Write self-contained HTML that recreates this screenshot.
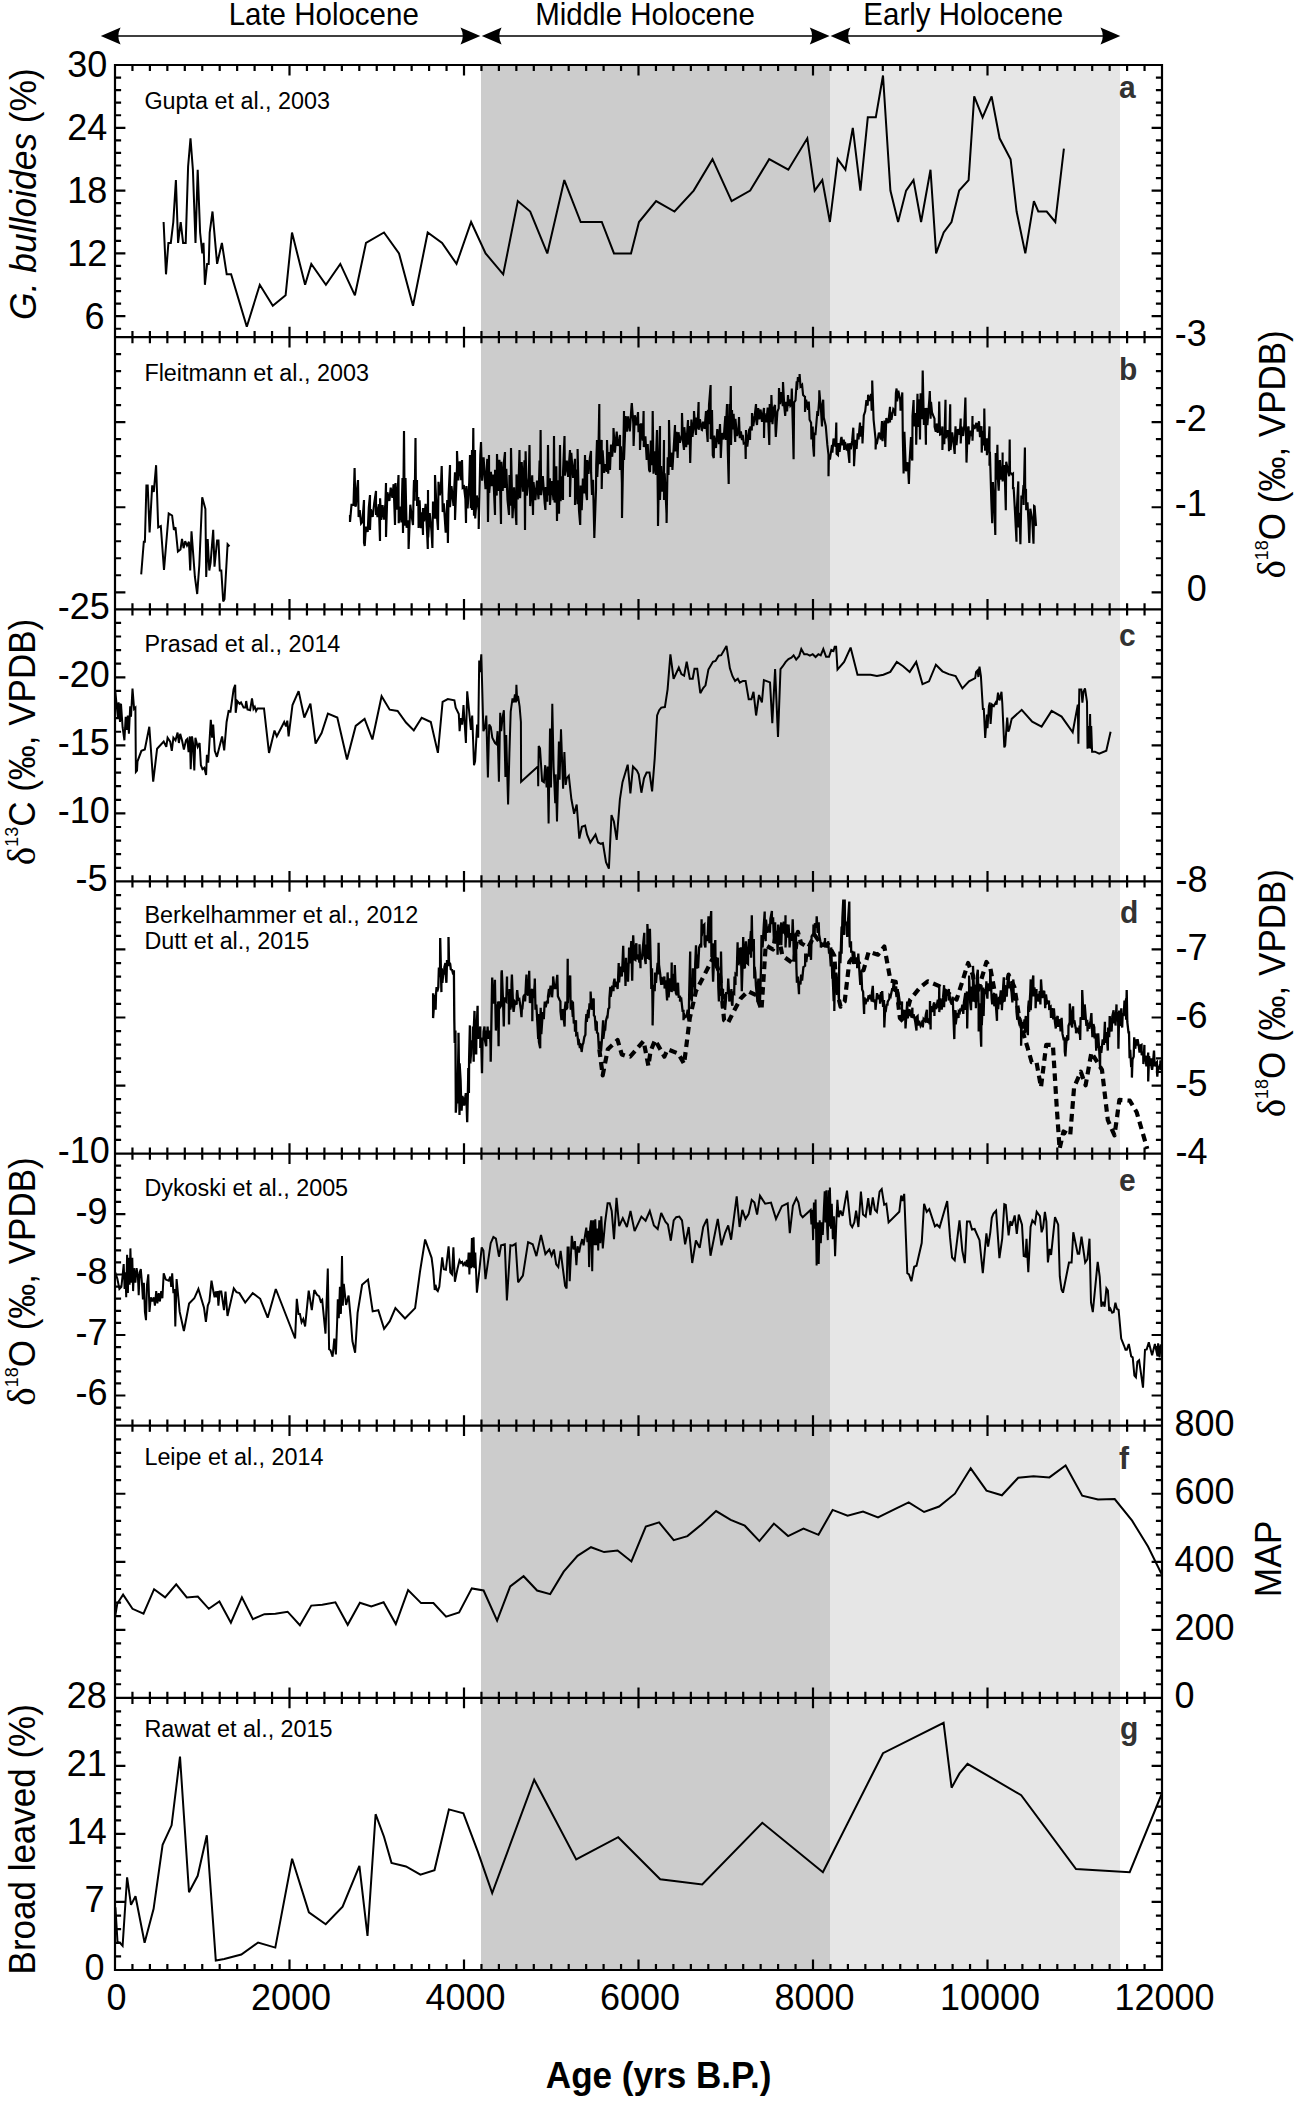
<!DOCTYPE html>
<html><head><meta charset="utf-8"><title>Holocene monsoon records</title>
<style>html,body{margin:0;padding:0;background:#fff}svg{display:block}text{font-family:"Liberation Sans",sans-serif;fill:#000}.tk{font-size:36px}.src{font-size:23.35px}.pl{font-size:30px;font-weight:bold;fill:#333}.ax{font-size:35.4px}.hl{font-size:29.5px}.c{fill:none;stroke:#000;stroke-width:2;stroke-linejoin:miter;stroke-miterlimit:3;stroke-linecap:butt}.cn{fill:none;stroke:#000;stroke-width:2;stroke-linejoin:miter;stroke-miterlimit:3}.f{stroke:#000;stroke-width:2.2;fill:none;stroke-linecap:butt}</style></head><body>
<svg width="1298" height="2101" viewBox="0 0 1298 2101">
<rect x="0" y="0" width="1298" height="2101" fill="#fff"/>
<rect x="481" y="65.0" width="349" height="1905.0" fill="#cccccc"/>
<rect x="830" y="65.0" width="290" height="1905.0" fill="#e6e6e6"/>
<polyline class="c" points="163.6,222.0 166.0,274.3 168.4,242.9 170.8,242.9 173.3,222.0 175.9,180.1 178.1,242.9 180.7,222.0 183.1,242.9 185.7,242.9 188.1,166.5 190.5,138.3 192.9,169.7 195.5,242.9 197.7,169.7 200.1,232.5 202.3,253.4 203.5,242.9 204.9,284.8 207.1,263.9 208.7,263.9 209.7,232.5 212.5,211.5 217.1,263.9 221.9,242.9 226.7,274.3 231.1,274.3 246.8,326.7 259.8,284.8 272.8,305.7 285.6,295.3 292.0,232.5 305.1,284.8 311.3,263.9 325.9,284.8 340.3,263.9 354.9,295.3 366.0,242.9 384.0,232.5 399.0,253.4 413.0,305.7 427.7,232.5 442.1,242.9 456.5,263.9 471.1,222.0 485.6,253.4 503.2,274.3 517.8,201.1 530.2,211.5 547.3,253.4 564.3,180.1 580.7,222.0 601.8,222.0 614.0,253.4 631.0,253.4 639.0,222.0 656.1,201.1 674.5,211.5 693.7,190.6 712.5,159.2 731.6,201.1 750.2,190.6 769.2,159.2 788.3,169.7 807.3,138.3 814.7,190.6 822.3,180.1 829.9,222.0 837.7,159.2 845.4,169.7 852.8,127.8 860.4,190.6 867.8,117.3 875.8,117.3 883.0,75.5 890.4,190.6 898.1,222.0 906.1,190.6 913.5,180.1 921.1,222.0 930.5,169.7 936.1,253.4 943.7,232.5 951.5,222.0 959.2,190.6 968.6,180.1 974.2,96.4 982.6,117.3 991.6,96.4 999.6,138.3 1010.6,159.2 1016.6,211.5 1025.3,253.4 1033.9,201.1 1038.3,211.5 1046.7,211.5 1055.3,222.0 1063.9,148.7"/>
<polyline class="c" points="141.2,574.4 143.8,541.7 144.9,541.7 146.4,485.4 147.7,485.4 149.6,532.5 152.2,485.4 153.8,491.9 156.1,465.2 158.2,527.3 160.8,526.0 164.0,570.0 168.7,513.4 172.1,515.5 173.9,529.9 175.5,527.3 177.9,551.6 180.5,549.5 182.0,539.0 183.6,548.2 185.2,541.2 187.0,545.6 188.9,541.7 190.2,570.5 191.5,531.2 194.9,577.0 197.2,594.0 199.3,565.2 202.2,497.2 205.4,508.9 206.2,577.0 207.7,539.0 209.3,570.5 210.6,562.6 213.2,529.9 214.5,566.6 217.1,540.4 218.5,540.4 219.8,570.5 221.3,570.5 223.2,601.4 224.5,599.3 227.6,544.3 229.5,546.4"/>
<polyline class="cn" style="stroke-width:2.15" points="350.0,515.0 350.0,519.3 350.0,522.0 351.5,504.9 353.5,504.9 354.6,468.0 355.4,506.7 356.0,505.0 356.6,493.5 358.0,480.0 358.6,517.0 359.7,510.1 361.1,523.5 362.4,521.9 364.0,500.0 364.0,542.7 364.7,546.0 365.9,526.6 367.7,532.0 368.8,507.3 370.0,495.0 370.0,530.0 370.8,509.3 372.7,516.9 374.2,503.3 376.0,491.0 376.0,515.0 376.0,505.7 377.5,517.1 378.8,504.2 380.0,541.0 380.1,498.3 381.1,520.0 382.6,505.1 383.9,519.7 385.4,503.3 386.0,483.0 386.0,537.0 387.4,492.2 389.4,500.9 390.7,487.6 392.4,497.9 393.6,484.2 395.0,525.0 395.5,483.1 396.7,509.8 398.5,475.0 398.7,523.2 400.4,506.5 401.4,522.4 402.5,478.0 402.8,513.3 403.0,533.0 404.0,431.0 404.8,525.7 405.5,478.0 406.6,527.8 408.4,520.3 408.6,549.0 410.3,504.7 411.6,515.5 413.0,525.0 413.6,493.1 414.0,480.0 414.7,500.8 415.5,438.0 415.9,491.8 417.0,480.0 417.1,506.0 418.3,497.1 418.6,528.0 419.6,500.3 420.9,528.1 422.1,512.2 423.0,535.0 423.1,508.1 424.1,521.5 425.6,503.9 427.1,532.9 427.8,549.0 428.0,490.0 428.2,537.4 429.7,513.0 431.5,531.4 432.4,548.0 433.0,501.5 435.0,518.5 435.0,475.0 436.8,514.2 438.0,530.0 438.5,481.8 439.8,495.4 440.9,487.3 441.7,466.0 442.7,512.1 443.8,503.3 445.7,532.8 447.3,500.1 447.9,543.0 448.6,494.8 450.0,465.0 450.0,507.1 451.5,486.2 453.5,505.8 455.0,472.3 455.0,520.0 457.0,467.0 457.0,451.0 458.3,480.5 459.7,461.3 461.2,480.1 462.0,460.0 462.7,487.8 464.0,486.7 465.4,499.2 466.0,523.0 466.4,486.1 467.6,508.5 469.2,482.7 470.0,455.0 470.8,508.2 472.0,450.0 472.0,510.0 472.7,480.3 473.3,428.0 474.0,515.7 475.0,450.0 475.2,518.5 476.8,495.5 478.7,510.7 478.7,529.0 480.3,455.0 481.0,442.0 482.1,480.6 483.6,457.2 485.5,489.2 487.3,458.9 488.0,522.0 489.0,455.0 489.2,493.0 490.9,471.9 491.9,486.1 493.3,474.6 495.0,515.0 495.1,469.8 496.7,495.6 497.0,454.0 498.4,491.0 499.4,459.8 501.0,524.0 501.2,461.8 502.7,491.0 503.8,462.8 505.0,452.0 505.0,487.9 506.3,468.8 507.5,499.8 509.0,515.0 509.5,474.9 510.8,505.7 511.0,448.0 512.5,518.2 514.1,487.3 515.2,506.8 516.4,525.0 516.5,474.4 517.8,499.5 518.8,475.4 519.5,450.0 520.1,498.3 521.7,462.1 523.0,491.7 524.5,460.3 525.0,530.0 525.6,451.2 526.8,495.7 528.8,477.7 529.5,445.0 530.2,506.1 532.2,475.2 533.0,515.0 533.5,482.1 535.4,500.1 537.0,480.5 538.5,499.3 539.6,460.6 540.0,495.0 540.6,430.0 541.1,495.2 542.8,476.2 544.7,503.3 545.4,510.0 545.8,487.1 547.3,501.7 548.0,445.0 548.6,495.5 549.9,478.3 550.0,505.0 551.7,481.0 553.5,500.1 554.0,436.0 554.6,502.6 556.3,466.3 557.0,521.0 557.6,480.3 559.0,513.7 560.0,445.0 560.6,501.3 562.0,476.4 563.0,500.0 563.1,470.8 564.5,436.0 564.9,475.5 566.8,460.7 568.1,476.9 569.3,459.3 570.0,450.0 570.0,497.0 571.3,452.8 573.1,477.9 575.0,458.8 575.0,505.0 576.5,469.5 577.6,504.3 577.6,449.0 579.0,510.7 580.2,525.0 580.7,485.5 581.7,510.3 582.9,478.6 584.2,493.5 585.0,455.0 585.9,491.0 587.0,500.0 587.2,460.0 588.5,473.8 589.9,457.6 591.0,451.0 591.1,472.4 592.0,495.0 593.0,479.7 594.2,531.3 594.3,538.0 596.0,490.0 596.2,465.3 597.0,440.0 597.3,477.0 598.4,452.6 599.3,404.0 599.5,464.1 600.8,444.7 601.7,440.0 601.7,489.0 602.6,450.4 604.1,472.7 605.6,464.3 606.9,471.9 607.0,440.0 608.2,473.8 609.3,452.0 610.0,470.0 611.0,444.5 612.2,456.8 613.4,439.4 613.5,428.0 614.9,452.6 616.7,431.5 617.7,445.9 619.4,438.7 620.0,435.0 620.0,470.0 620.9,446.4 621.9,483.4 622.0,518.0 623.8,423.4 624.0,411.0 624.0,460.0 625.7,416.0 626.9,431.7 628.1,416.4 629.8,431.5 631.5,406.0 631.8,403.0 633.3,423.6 633.6,446.0 634.8,415.3 636.6,425.4 638.0,412.0 638.5,432.2 639.8,423.8 640.0,450.0 641.1,423.4 642.8,440.7 643.6,411.0 643.8,447.1 645.4,436.3 646.7,460.0 647.7,444.0 649.1,470.1 650.0,472.0 650.8,440.5 652.2,465.2 652.7,411.0 653.5,473.7 655.2,451.2 656.0,475.0 656.2,453.0 657.0,430.0 657.9,504.7 658.0,526.0 659.2,459.6 660.0,426.0 660.0,500.0 661.1,466.0 662.1,491.7 663.5,473.3 664.0,440.0 664.0,500.0 664.7,473.4 666.5,513.7 666.6,523.0 667.7,457.2 668.5,475.0 669.0,447.2 669.0,420.0 670.2,466.9 672.0,452.7 672.4,470.0 673.9,444.3 675.0,425.0 675.1,451.3 676.5,431.9 677.6,458.0 678.5,432.2 679.9,442.8 681.8,434.5 682.0,413.0 682.9,440.6 684.0,450.0 684.3,427.2 686.2,447.2 688.0,420.0 688.2,444.6 689.5,426.0 690.2,463.0 691.4,419.6 692.5,436.9 693.9,421.7 694.0,411.0 695.2,427.3 696.0,435.0 696.2,417.6 697.5,428.7 698.6,402.0 698.7,429.8 699.9,419.1 701.7,429.8 702.0,430.0 703.1,421.6 704.6,428.7 706.0,411.0 706.5,427.1 707.7,442.0 707.9,409.8 708.9,424.2 709.0,405.0 710.6,385.0 710.7,438.9 711.8,437.1 712.0,410.0 712.8,455.4 713.8,458.0 714.1,435.6 716.0,448.0 717.3,429.1 718.9,444.1 720.0,424.0 720.6,444.5 720.8,458.0 721.9,433.1 723.6,439.5 725.3,416.0 726.0,440.0 726.3,419.9 727.0,404.0 727.8,450.9 728.7,484.0 729.5,404.0 729.7,435.6 730.8,386.0 731.0,416.6 731.0,445.0 732.0,410.0 732.5,429.3 733.6,413.7 735.2,442.0 735.4,418.8 737.1,436.0 738.5,428.7 739.0,417.0 739.8,438.2 740.9,431.5 742.0,440.0 742.7,434.9 743.7,443.4 745.3,442.3 745.7,459.0 746.0,430.0 747.3,446.6 749.3,428.7 750.0,440.0 750.3,426.4 751.8,430.5 752.0,413.0 753.3,426.0 754.7,415.9 756.0,404.0 756.4,421.3 757.0,425.0 758.2,408.2 759.3,419.3 760.6,409.5 762.0,421.8 763.2,412.8 764.0,408.0 764.0,438.0 764.5,413.3 766.3,422.3 767.7,407.5 769.3,445.0 769.7,404.0 770.9,422.3 771.4,395.0 772.5,424.1 773.6,408.4 775.0,405.0 775.5,429.2 775.8,437.0 777.4,411.6 778.7,408.4 779.0,388.0 779.9,403.8 780.0,404.2 781.4,392.0 782.8,406.1 783.0,382.0 784.3,406.8 785.2,416.0 786.0,401.9 787.1,411.4 788.0,395.0 788.8,406.0 790.1,399.4 790.5,405.5 791.3,404.4 791.8,388.5 792.9,429.3 793.6,459.2 794.1,402.4 795.5,400.4 796.7,381.2 797.0,389.8 797.9,377.2 799.4,381.7 799.6,374.0 800.5,386.5 802.1,384.8 803.1,395.0 804.8,396.7 805.0,396.0 805.0,412.0 806.1,399.6 808.1,409.8 808.8,401.5 809.6,419.7 811.1,422.7 811.4,439.5 812.7,426.4 813.1,445.5 814.0,456.6 814.3,433.7 815.5,434.0 817.4,411.1 818.0,416.0 819.2,399.7 819.3,390.3 821.1,412.0 822.0,426.4 822.2,406.9 823.2,399.7 823.8,417.5 825.7,425.8 825.8,426.4 827.3,444.4 828.5,455.0 828.5,476.2 828.8,458.6 830.1,458.7 832.0,445.0 832.4,452.6 833.5,438.5 835.5,446.8 836.3,422.5 836.6,453.9 838.0,455.2 838.6,443.0 839.6,451.8 841.0,439.0 841.5,437.0 842.6,445.3 843.8,439.6 844.2,450.0 845.0,441.9 846.9,450.5 848.0,443.5 848.1,450.8 849.4,463.0 849.5,443.3 850.8,449.4 852.1,440.9 853.3,427.7 854.0,456.5 854.0,466.2 855.5,439.9 856.6,449.0 857.7,433.2 858.6,439.5 859.3,429.9 860.0,422.5 860.6,436.5 862.1,425.9 862.5,443.5 863.8,415.4 865.2,411.3 866.4,400.0 866.9,403.8 867.7,405.5 868.1,394.8 869.9,401.0 871.1,393.9 871.7,410.7 872.2,396.4 872.2,380.6 873.6,419.8 875.0,433.6 875.6,439.5 875.6,449.5 876.1,440.3 877.2,442.1 878.9,432.6 880.0,436.7 880.8,439.5 881.4,430.1 882.0,421.0 882.5,441.2 884.5,420.5 885.3,446.9 886.3,418.1 888.3,423.1 890.0,406.8 890.0,422.5 890.3,412.0 891.4,419.7 893.3,409.0 894.7,410.6 895.2,416.0 895.9,393.0 896.6,388.5 897.1,401.5 898.3,390.7 900.2,399.9 900.5,410.7 901.5,402.3 902.3,392.4 902.8,436.8 903.6,473.6 904.0,447.8 904.4,431.7 905.9,471.3 907.8,462.3 908.9,484.0 909.6,460.7 911.0,437.0 911.1,453.4 912.3,460.5 912.5,416.1 913.6,400.0 914.0,426.3 915.9,412.9 916.2,444.8 917.5,393.7 917.9,426.9 919.3,399.3 920.0,439.5 920.6,393.3 922.1,419.2 922.7,370.6 923.9,424.9 925.1,408.1 925.9,444.8 926.1,412.9 926.7,408.0 927.4,425.2 929.4,398.0 929.8,391.0 930.6,418.6 931.0,401.9 932.0,412.4 933.2,415.5 934.5,418.6 934.6,426.9 935.8,431.7 936.5,423.5 937.7,432.8 938.8,424.3 939.2,401.5 940.1,434.6 941.5,433.9 942.4,426.4 942.4,450.0 943.0,433.7 944.3,444.2 945.5,399.7 945.7,438.3 947.7,430.1 948.8,441.8 949.0,451.3 950.2,404.2 950.5,449.9 952.2,432.3 953.5,442.3 954.7,454.0 955.1,436.0 955.5,426.4 956.5,445.2 957.9,429.0 959.7,434.8 960.7,418.6 960.7,443.5 961.6,426.7 963.1,436.0 964.3,425.1 965.4,397.6 966.1,439.4 966.5,462.6 967.7,428.9 968.6,426.4 968.8,444.3 970.4,430.7 972.1,436.1 972.5,416.0 972.5,440.8 973.2,424.9 974.5,429.0 976.4,422.9 977.7,431.7 978.1,426.1 979.0,421.2 980.0,437.1 981.5,426.2 981.7,452.6 982.9,430.9 984.0,445.4 984.3,408.6 985.1,450.7 986.8,438.2 986.9,455.2 988.6,443.3 989.5,426.4 989.5,465.7 989.9,451.7 991.3,500.0 992.2,523.3 992.9,482.1 994.5,511.4 995.3,535.0 995.7,453.1 996.7,479.6 997.4,444.8 998.0,480.2 998.7,490.6 999.9,460.1 1001.3,479.6 1002.6,466.2 1002.6,452.6 1002.6,481.4 1004.5,465.1 1005.8,510.2 1006.2,461.7 1008.2,471.7 1009.2,476.2 1009.7,439.5 1010.0,472.3 1011.9,474.4 1013.0,473.6 1013.0,489.3 1013.6,487.0 1014.9,510.3 1016.5,541.7 1016.5,515.2 1018.3,481.4 1018.4,527.5 1019.5,512.9 1020.4,544.3 1021.4,495.5 1022.5,498.6 1023.5,485.0 1023.6,496.1 1023.6,505.0 1024.9,447.4 1025.2,490.2 1026.0,490.0 1026.2,510.2 1026.9,505.3 1027.5,502.4 1028.5,522.1 1029.3,543.0 1030.3,508.8 1032.2,519.3 1033.5,543.8 1034.1,506.0 1034.6,506.3 1036.0,525.4 1036.2,526.0 1036.2,526.0"/>
<polyline class="c" points="115.2,690.6 116.5,703.7 117.9,716.8 118.6,702.4 120.0,722.0 121.0,703.7 122.6,727.2 124.4,740.3 125.7,716.8 127.0,729.9 127.8,715.5 128.9,733.8 130.2,706.3 131.0,716.8 132.5,688.5 134.1,708.9 135.4,707.6 135.9,771.8 137.0,770.5 137.5,761.3 141.4,750.8 144.8,749.5 149.3,726.7 153.2,781.7 157.1,748.7 163.7,741.6 166.3,746.9 167.6,737.7 170.2,741.6 171.8,750.8 173.4,737.7 175.5,740.3 177.6,732.5 178.9,743.0 180.2,733.8 182.0,740.3 183.9,749.5 186.0,740.3 187.3,739.0 188.6,752.1 189.9,736.4 190.7,769.2 192.0,736.4 193.0,743.0 194.3,770.5 195.4,737.7 197.7,746.9 199.6,743.0 200.9,765.2 202.5,769.2 204.3,767.8 206.1,774.9 206.9,754.7 208.2,762.6 210.8,719.9 212.1,737.7 213.2,724.6 214.8,750.8 216.9,756.8 222.1,736.4 224.2,750.3 226.6,722.0 228.6,711.0 230.5,711.5 233.6,689.3 235.2,684.8 235.7,712.8 237.3,701.0 239.6,703.7 241.0,702.4 243.6,707.6 245.4,707.6 246.2,701.0 247.5,709.4 250.1,710.2 252.0,698.4 253.5,708.9 254.8,706.8 256.1,711.0 257.5,708.4 264.0,708.4 269.0,752.9 274.5,730.6 276.8,736.4 284.2,722.0 286.0,726.5 287.3,720.7 288.6,736.4 292.5,705.0 298.6,691.1 304.3,717.5 310.4,703.7 315.6,743.5 321.6,733.0 327.9,713.6 337.3,717.5 347.0,759.5 355.7,725.9 364.6,718.9 372.4,739.5 381.6,696.3 389.7,709.7 397.6,711.0 406.0,722.5 413.8,730.4 421.7,717.8 430.8,722.0 437.9,752.9 442.6,701.8 447.8,699.0 454.4,700.3 455.7,707.6 458.8,714.1 459.6,731.2 460.9,718.1 462.2,724.6 463.5,705.0 465.9,743.0 467.2,691.4 469.8,718.1 470.9,729.9 472.2,715.5 474.0,765.2 475.1,761.3 477.1,724.6 478.2,737.7 479.2,660.5 480.0,672.2 481.3,654.4 483.4,731.2 485.0,727.2 486.3,715.5 487.9,777.5 489.2,724.6 490.8,727.2 492.3,737.7 495.0,743.0 496.5,744.3 497.6,731.2 498.9,781.7 500.2,712.8 501.2,731.2 502.6,716.8 503.9,710.2 505.4,777.0 506.2,735.1 508.1,804.5 509.4,753.4 510.7,711.5 512.5,698.4 513.8,702.4 514.9,694.5 515.9,702.4 516.4,684.8 517.2,701.0 518.0,695.8 519.6,706.3 520.9,722.0 521.1,781.7 537.9,766.5 538.2,786.2 538.7,746.1 540.0,748.2 542.1,780.9 543.9,782.2 545.2,765.2 546.6,787.5 547.6,766.5 548.6,823.6 550.0,728.6 551.0,787.5 552.3,703.7 553.6,766.5 555.2,803.2 555.7,774.4 557.0,821.5 558.9,741.6 559.6,779.6 561.0,729.3 562.3,766.5 563.1,788.8 564.4,752.1 565.7,784.9 566.7,778.3 568.8,775.7 571.4,799.3 574.1,813.7 576.7,804.5 579.3,838.6 581.9,826.8 585.1,825.5 587.1,834.6 590.3,842.5 595.5,834.6 598.1,842.5 600.8,843.8 602.9,843.0 606.0,862.1 608.9,868.7 611.5,815.0 613.9,821.5 616.7,839.9 619.9,799.3 622.5,782.2 627.7,764.7 630.4,793.5 633.0,766.5 636.9,770.5 638.7,774.4 641.4,792.7 644.0,778.3 646.6,772.6 649.5,772.6 652.1,791.4 654.7,758.7 657.1,715.5 659.2,710.2 661.3,707.6 664.9,707.1 667.6,689.3 670.4,654.4 673.6,678.8 678.8,667.5 681.4,674.1 684.1,675.6 686.7,661.8 689.8,678.8 692.7,678.8 694.5,668.8 697.2,668.8 700.3,693.2 703.2,688.0 705.5,685.3 708.4,669.6 712.9,661.8 715.5,661.0 718.6,655.7 721.2,655.2 726.5,646.0 729.9,668.3 732.5,676.2 735.1,680.9 737.8,678.8 739.8,682.7 743.0,680.9 745.6,680.9 748.7,699.2 751.4,699.2 753.5,691.9 756.1,715.5 759.0,695.0 761.9,702.4 763.9,680.1 770.0,682.4 772.3,723.2 775.1,669.0 778.0,736.9 780.5,669.0 782.8,666.2 785.7,661.9 788.5,659.0 791.4,657.6 793.6,655.3 796.2,659.6 799.1,656.2 801.3,649.1 804.2,654.2 807.0,654.2 809.9,655.6 812.7,654.2 815.6,657.0 818.4,654.2 820.7,655.3 823.3,649.1 826.1,656.8 829.0,656.8 831.3,649.9 833.5,651.1 834.7,646.8 836.1,646.8 837.5,669.6 844.1,661.9 850.6,647.6 857.5,674.7 870.6,674.7 876.9,676.1 883.4,674.7 890.3,671.9 896.8,661.9 903.1,666.2 909.7,671.9 916.2,661.9 922.5,684.1 929.0,681.3 935.9,664.7 942.4,671.3 948.7,674.1 955.6,676.1 962.4,688.4 969.0,681.3 975.2,678.1 976.1,671.9 977.5,670.4 978.4,677.0 979.5,666.7 980.9,676.1 982.9,708.9 983.8,708.9 985.2,738.0 986.9,714.6 987.5,728.3 988.9,706.1 989.8,702.6 990.6,724.0 992.0,704.6 993.8,706.1 995.7,702.6 996.6,704.6 998.0,692.7 999.5,700.4 1001.5,691.8 1002.3,703.2 1004.3,747.4 1005.2,745.4 1007.2,717.5 1008.3,731.7 1009.4,728.9 1011.7,718.9 1021.7,709.8 1032.2,721.7 1041.6,726.6 1051.6,710.9 1061.6,716.6 1072.7,732.3 1077.8,704.6 1078.4,743.7 1079.3,689.5 1081.3,689.5 1082.4,702.6 1083.5,691.8 1085.0,688.4 1087.0,701.8 1087.5,748.8 1088.4,726.0 1089.2,748.3 1090.1,714.1 1090.7,748.8 1091.2,726.0 1092.1,751.7 1094.9,751.7 1099.2,753.7 1106.3,750.8 1110.6,731.7"/>
<polyline class="cn" style="stroke-width:2.3" points="433.1,993.2 433.1,1007.8 433.1,1018.1 434.7,994.8 435.6,1009.8 436.0,994.3 436.6,987.0 437.3,991.6 438.3,987.0 438.9,967.5 440.0,977.2 440.2,938.0 441.4,992.1 441.4,972.4 441.8,968.2 442.4,983.0 443.4,971.3 443.9,974.5 444.4,967.1 445.4,963.0 445.6,972.6 446.4,982.8 447.0,961.1 448.5,960.9 448.5,937.0 449.1,966.1 449.8,963.0 450.2,964.0 450.8,969.2 452.1,969.9 453.3,974.5 453.3,972.5 453.9,970.3 454.3,1019.5 454.7,1043.1 455.4,1030.6 455.8,1099.4 455.8,1112.8 457.0,1093.0 457.1,1101.7 457.4,1103.4 458.5,1043.1 458.5,1032.7 459.5,1114.9 459.6,1063.3 460.6,1080.5 461.1,1099.5 461.6,1110.7 462.3,1095.9 462.6,1097.2 463.9,1100.3 464.1,1105.5 465.6,1095.5 465.8,1093.0 466.6,1103.9 467.2,1122.2 468.1,1082.3 468.3,1068.0 468.9,1093.0 469.1,1059.5 469.9,1025.4 470.3,1063.4 471.0,1053.5 471.3,1040.2 472.7,1046.7 473.0,1026.5 473.7,1061.8 473.8,1028.8 474.5,1010.9 475.4,1054.4 475.8,1026.5 476.2,1054.5 476.4,1034.8 477.6,1005.7 477.9,1038.7 478.9,1034.8 479.4,1032.6 480.3,1026.5 480.3,1047.9 481.3,1042.9 482.0,1073.3 482.6,1037.4 483.4,1038.9 483.6,1031.8 484.5,1026.5 484.7,1039.1 486.2,1046.2 486.4,1030.4 487.3,1035.7 487.6,1026.5 488.2,1038.9 489.0,1034.3 489.7,1030.6 490.5,1043.8 490.7,1061.8 491.8,999.8 492.2,977.6 492.8,1001.5 493.0,985.3 493.9,1003.8 494.9,979.7 495.5,1011.3 495.9,1030.6 496.8,1004.2 498.0,1027.1 498.0,1001.5 498.6,1046.2 499.0,1001.3 499.9,1007.6 501.1,1005.7 501.5,973.0 501.8,970.3 503.1,1002.5 503.8,1026.5 504.3,999.2 504.3,997.3 505.6,1000.8 506.3,1001.5 507.0,976.5 507.1,992.5 508.8,993.6 509.0,1024.4 509.5,989.0 510.3,1009.5 511.5,1003.6 511.5,985.0 511.9,974.5 513.1,1006.4 513.6,1011.9 514.6,1003.6 514.7,1001.5 515.9,1003.1 516.7,1004.6 516.8,994.4 517.2,990.0 518.1,999.7 519.3,999.1 520.7,1008.5 521.5,1017.1 521.9,1007.7 522.3,1009.3 523.5,996.5 524.9,994.5 525.1,1001.5 526.1,980.4 526.5,974.5 527.5,994.2 528.2,995.3 529.0,984.1 529.2,970.7 529.9,1003.1 531.4,990.5 532.3,989.0 532.3,1021.3 532.6,994.0 533.7,998.0 534.7,983.4 534.8,978.6 535.5,1009.8 536.3,1004.5 536.5,1007.7 537.6,1026.6 538.2,1038.9 538.6,1014.0 538.9,1041.9 540.2,1048.3 540.3,1025.3 540.7,1007.7 541.3,1034.1 542.8,1012.2 543.8,1019.2 544.5,1005.6 544.8,1001.5 545.7,1007.2 547.0,1000.6 547.9,1003.6 548.0,996.4 549.0,989.0 549.2,997.3 550.6,985.7 551.7,989.7 552.1,997.3 553.1,982.3 553.1,976.5 554.5,989.0 555.5,984.0 556.3,989.0 556.4,983.6 557.3,974.9 557.9,996.3 559.5,999.7 560.4,1001.5 560.5,1011.2 561.5,1020.2 562.1,1010.1 563.5,1009.8 563.7,1018.9 564.6,1026.5 565.0,1007.2 565.6,1001.5 566.1,1009.7 567.3,1007.7 567.7,958.8 567.8,1003.2 569.0,982.1 570.2,975.5 570.6,1006.5 570.8,1009.8 571.6,1000.3 572.8,1016.9 572.9,1001.5 573.8,1023.4 574.8,1021.9 575.0,1031.7 576.0,1020.2 576.2,1034.7 577.3,1033.8 578.5,1045.2 578.6,1038.9 579.9,1048.1 580.2,1043.1 581.6,1050.9 581.6,1052.0 582.6,1044.7 583.3,1043.1 584.3,1037.2 585.4,1034.8 585.7,1022.7 586.4,1014.0 586.8,1022.0 588.1,1009.7 588.5,1018.1 589.5,1003.4 590.6,1007.2 590.6,991.5 591.6,1009.8 592.3,1001.2 593.7,998.4 593.9,1015.4 594.8,1016.5 595.8,1030.6 596.1,1021.6 596.8,1022.3 597.0,1032.7 598.0,1033.4 598.9,1049.3 599.4,1041.6 599.9,1043.1 600.8,1047.0 601.0,1051.4 602.1,1037.4 603.1,1020.2 603.3,1038.9 604.9,1026.3 605.1,1030.6 605.9,1021.0 607.2,1016.1 607.3,1018.5 608.3,1008.9 609.3,1007.7 609.4,998.6 610.3,986.9 610.6,996.8 612.3,985.8 613.5,991.1 613.7,983.1 614.5,978.6 615.3,987.1 616.5,981.6 617.6,989.0 618.1,978.9 618.7,963.0 619.1,982.5 620.4,966.7 621.5,974.8 621.8,976.5 622.5,963.4 623.2,945.7 623.9,972.0 625.0,963.8 625.5,985.9 626.0,957.8 626.5,976.1 627.5,962.7 628.0,981.7 629.0,953.1 629.1,947.4 630.0,963.4 631.3,941.1 632.2,980.7 633.0,941.1 633.2,935.3 634.2,959.2 635.3,959.9 635.4,947.2 636.4,943.2 636.6,959.3 638.2,954.3 639.4,962.6 639.5,944.3 640.5,968.2 640.6,956.0 641.6,955.7 641.8,959.6 643.2,943.8 644.3,932.8 644.5,955.8 645.7,964.0 645.8,944.5 647.3,959.0 647.4,924.1 648.5,947.5 649.5,959.9 649.8,934.9 649.9,928.7 651.1,976.2 651.3,989.0 652.0,968.2 652.6,1011.0 652.6,1025.4 653.5,984.7 654.7,991.1 655.0,981.8 655.1,972.4 656.0,983.0 657.6,962.8 658.2,974.5 658.6,942.8 659.0,964.6 660.3,974.5 660.5,978.8 661.3,984.9 661.6,977.1 663.1,984.5 664.4,976.5 664.6,988.6 665.8,980.2 667.1,1000.5 667.3,986.6 667.6,972.4 668.6,997.4 670.1,978.3 671.3,991.4 671.7,962.4 671.7,992.1 672.7,973.9 674.3,991.1 674.8,965.1 675.9,993.2 676.9,995.3 677.3,986.1 678.0,982.8 678.7,997.6 680.0,995.8 680.0,1001.5 681.0,999.5 681.1,997.3 682.7,1012.0 683.5,1009.8 683.5,1020.2 683.7,1013.3 685.0,1017.2 686.6,1015.8 687.7,1009.8 687.8,1017.5 688.7,1020.2 689.2,993.2 690.2,951.6 690.3,999.7 691.5,981.5 691.8,1001.5 692.9,968.2 693.1,986.8 694.1,971.9 695.0,993.2 695.2,964.6 696.0,945.3 696.7,968.7 697.8,954.4 698.1,968.2 698.9,952.3 699.1,947.4 700.4,944.2 701.2,947.4 701.6,919.3 701.7,936.2 703.0,925.8 704.3,924.5 704.6,944.4 705.4,947.4 705.8,935.3 707.5,940.9 708.5,916.2 708.5,934.0 709.5,943.2 710.2,924.5 711.2,911.0 711.4,957.2 712.6,943.2 712.7,969.9 713.1,981.7 714.4,950.2 715.3,940.1 715.5,957.7 716.2,968.2 716.8,959.3 717.8,957.8 718.3,987.5 718.9,1001.5 719.7,973.3 720.7,982.4 721.0,951.6 721.8,991.4 722.0,1007.7 723.0,989.0 723.1,998.5 724.8,994.0 725.1,1009.8 726.2,996.6 726.2,993.2 727.7,993.1 728.2,978.6 729.2,996.6 729.3,1001.5 730.8,995.6 731.4,989.0 731.9,1003.8 732.4,1005.7 732.9,992.8 734.2,993.8 734.5,976.5 735.5,984.9 735.5,973.7 736.7,974.6 737.6,942.2 737.9,963.7 738.6,964.0 738.9,947.9 740.0,963.9 740.7,947.4 741.3,968.2 741.8,991.1 742.8,957.7 743.2,937.0 744.0,967.0 744.9,968.2 745.1,955.5 745.9,941.2 746.6,962.8 748.0,964.0 748.1,951.7 749.0,939.1 749.3,954.3 750.9,931.1 751.1,957.8 751.8,915.2 752.4,950.0 753.6,949.0 753.8,939.1 754.3,978.6 754.7,967.0 755.3,972.4 755.9,985.4 757.4,1001.5 757.6,986.8 758.4,978.6 758.7,1001.4 759.8,984.4 759.9,1005.7 761.2,960.5 761.5,934.9 762.3,946.6 762.6,947.4 763.8,925.3 764.7,911.6 764.8,931.6 765.7,941.2 766.0,919.5 767.3,932.9 767.8,926.6 768.5,931.6 769.5,923.8 769.9,932.8 770.4,918.9 771.9,911.0 771.9,924.1 773.1,917.3 774.0,943.2 774.5,926.4 775.1,922.4 775.6,935.4 776.6,930.7 777.5,948.3 777.6,954.7 778.2,924.5 778.8,945.1 780.2,930.8 781.3,922.4 781.3,945.3 781.8,928.4 782.9,933.5 783.8,921.6 785.3,935.5 785.5,915.2 785.5,947.4 786.8,924.3 788.2,937.6 788.6,924.5 789.4,940.3 789.6,947.4 790.8,933.1 792.0,940.8 792.7,919.3 793.5,943.5 793.8,957.8 794.9,936.3 795.9,932.8 796.4,967.5 796.9,982.8 797.8,977.4 797.9,976.5 799.0,994.2 799.1,981.6 800.5,984.4 801.1,974.5 801.9,978.5 802.1,980.7 803.4,967.2 805.1,965.8 805.2,953.6 806.1,960.5 806.3,962.0 807.2,954.8 808.7,955.4 809.4,943.2 810.3,948.2 811.0,959.9 811.6,936.3 813.3,933.6 813.5,924.5 814.6,937.0 814.9,923.2 816.3,927.7 816.7,916.2 817.4,928.4 817.7,932.8 818.7,922.4 819.1,934.6 820.4,941.4 820.8,943.2 820.8,947.4 822.0,943.5 823.6,944.8 825.0,940.5 825.0,938.0 825.0,947.4 826.0,942.8 827.0,947.6 828.0,945.2 828.1,941.2 829.1,953.6 829.7,951.0 830.8,966.3 831.2,947.4 832.3,978.6 832.3,967.9 833.7,1001.2 834.3,964.0 834.3,1010.9 834.6,991.2 835.9,989.9 836.4,972.4 836.4,991.1 837.1,976.7 838.1,987.6 838.9,1001.5 839.2,964.9 839.5,951.6 840.4,963.1 841.3,934.3 841.6,926.6 841.6,953.6 842.4,917.8 843.3,899.6 843.7,923.7 844.3,934.9 844.7,899.6 845.0,924.5 846.4,923.2 846.8,924.5 847.2,937.0 847.9,922.6 849.3,901.6 849.6,941.9 849.9,947.4 851.0,941.2 851.2,951.7 852.4,951.8 853.1,964.0 854.1,956.9 854.1,951.6 855.4,963.6 857.0,960.4 857.2,968.2 858.0,961.0 858.3,953.6 859.6,974.6 860.3,984.9 861.0,970.4 861.4,972.4 862.1,989.5 863.1,991.8 864.1,1014.0 864.3,1001.1 864.5,997.3 865.5,1004.3 867.0,998.7 867.6,1001.5 868.1,998.0 868.7,995.3 869.3,999.4 870.2,994.6 871.8,1001.5 871.9,993.0 872.8,985.9 873.5,1002.0 875.1,999.8 875.5,1009.8 876.6,997.8 877.0,993.2 878.2,999.0 879.7,994.9 880.1,1003.6 881.0,992.0 881.9,1001.6 882.2,991.1 883.1,1007.0 884.0,1000.0 884.3,1027.5 885.3,1005.7 885.6,1012.1 886.8,1003.8 887.4,1005.7 887.7,1001.6 889.3,999.0 889.5,995.3 890.6,996.5 892.3,988.2 892.6,991.1 893.4,985.3 893.6,980.7 895.0,991.8 896.1,986.3 897.2,995.7 897.8,989.0 897.8,1003.6 898.3,991.6 900.0,1003.6 901.4,1004.4 902.0,1001.5 902.0,1018.1 903.0,1009.5 904.0,1019.8 905.1,1009.7 905.5,1028.5 906.7,1009.7 907.2,1001.5 907.7,1018.4 909.4,1009.2 910.3,1016.1 910.3,1010.2 911.5,1017.5 912.4,1007.7 912.5,1018.1 913.6,1014.3 915.2,1021.6 916.5,1030.6 916.6,1017.1 917.6,1016.1 918.0,1025.4 919.1,1020.8 920.5,1025.7 922.0,1022.5 922.8,1020.2 922.8,1027.5 923.6,1019.1 925.0,1020.8 925.9,1014.3 926.9,1009.8 927.0,1022.6 928.6,1019.9 929.7,1024.2 930.0,1001.0 930.6,1029.5 930.8,1006.2 932.1,1012.0 933.8,1003.5 934.4,1002.5 934.4,1016.0 934.7,1004.8 936.2,1009.0 937.8,999.6 938.9,1007.9 939.3,985.2 939.3,1012.1 940.3,998.3 941.7,1009.6 943.0,997.9 944.1,985.2 944.1,1007.3 944.6,992.9 945.9,1001.5 947.0,989.9 948.0,995.8 948.9,989.0 948.9,1000.6 949.1,991.9 950.6,1001.9 951.8,1004.4 952.1,1002.1 952.7,996.7 953.4,1015.6 954.3,1039.1 954.8,1013.5 955.6,1010.2 955.7,1024.4 957.2,1012.8 958.5,1017.9 958.8,1011.5 959.8,1012.5 960.4,1008.3 961.1,1011.3 962.4,1004.7 963.3,1014.0 963.9,1002.2 965.3,992.9 965.5,1010.0 966.9,991.4 967.2,1028.5 967.9,993.8 969.1,999.4 969.1,975.5 970.2,1002.9 971.0,1010.2 971.6,986.5 972.9,1001.7 973.0,965.9 974.5,1001.8 975.6,986.3 975.9,1008.3 977.0,975.3 977.8,969.7 978.6,1004.1 978.7,1031.4 979.8,1003.3 980.9,1039.9 981.2,1046.8 981.6,985.2 981.8,1025.3 983.3,987.6 983.6,1016.0 984.3,989.2 985.8,993.9 986.4,981.3 986.9,995.0 987.4,998.6 987.9,983.3 989.1,991.1 990.0,983.9 990.3,971.7 991.7,998.9 992.2,1004.4 993.2,996.1 994.2,992.9 994.3,1006.3 995.4,998.8 997.0,1020.8 997.1,998.8 998.2,1009.3 999.0,996.7 999.6,1001.9 1000.8,990.4 1001.8,998.1 1001.9,1010.2 1003.2,986.3 1003.8,977.4 1004.6,1001.6 1005.9,987.4 1006.7,996.7 1007.5,982.8 1008.6,973.6 1009.0,988.2 1010.2,983.5 1011.5,992.0 1012.4,1002.5 1012.6,988.3 1013.4,979.4 1013.8,1000.2 1015.1,994.8 1016.3,996.7 1016.5,1011.6 1017.3,1019.8 1017.6,1006.2 1018.6,1019.0 1019.8,1016.9 1020.7,1028.1 1021.1,1019.8 1021.1,1045.8 1021.8,1021.9 1023.4,1028.5 1024.5,1019.3 1025.0,1033.3 1025.6,1017.1 1025.9,1016.0 1026.7,1026.9 1027.9,1035.2 1028.2,1007.2 1028.8,1000.6 1029.1,1012.0 1030.3,991.9 1030.7,979.4 1030.7,1010.2 1032.0,985.1 1033.3,975.5 1033.5,996.4 1034.4,987.3 1035.5,996.9 1035.6,1008.3 1036.5,989.0 1036.5,1001.4 1037.5,994.0 1038.7,1001.6 1039.7,991.2 1040.4,1004.4 1040.8,989.4 1041.0,979.4 1042.2,997.9 1043.3,992.5 1044.2,990.9 1044.8,999.1 1045.2,1008.3 1046.0,994.5 1047.1,1003.2 1048.2,1002.4 1049.0,1000.6 1049.2,1008.0 1050.6,1006.8 1051.0,1017.9 1052.1,1008.2 1053.3,1019.3 1053.9,1008.3 1054.9,1021.8 1055.8,1028.5 1056.3,1018.7 1057.7,1016.0 1058.0,1026.9 1059.1,1019.3 1060.1,1024.5 1060.6,1031.4 1061.3,1021.6 1061.6,1017.9 1062.5,1033.9 1063.8,1040.2 1064.5,1037.2 1064.8,1051.6 1065.4,1056.4 1066.1,1044.7 1067.3,1035.2 1067.5,1039.7 1068.3,1039.1 1068.5,1025.8 1069.7,1022.4 1069.8,1003.5 1071.1,1023.9 1072.2,1027.5 1072.5,1011.5 1073.1,1006.3 1073.4,1022.5 1074.6,1021.8 1075.8,1029.0 1076.0,1027.5 1076.0,1033.3 1077.1,1027.9 1078.4,1031.7 1079.5,1029.7 1079.5,1025.6 1080.2,1040.0 1080.6,1017.2 1082.0,1019.7 1082.2,990.0 1083.4,1015.1 1083.7,1019.8 1084.7,1012.4 1084.7,1004.4 1086.4,1025.8 1087.2,1019.8 1087.6,1031.4 1087.7,1022.8 1089.2,1028.7 1090.6,1020.2 1091.4,1013.1 1091.9,1026.9 1092.4,1037.2 1093.4,1024.0 1094.3,1027.5 1094.6,1038.5 1095.6,1033.2 1096.2,1050.6 1096.9,1034.3 1098.1,1048.1 1098.2,1033.3 1099.1,1048.5 1100.1,1068.0 1100.2,1046.1 1101.0,1050.6 1101.3,1053.0 1102.6,1040.2 1103.7,1040.0 1103.9,1044.9 1104.9,1021.8 1105.1,1042.9 1106.5,1032.1 1107.8,1050.6 1108.1,1027.6 1109.2,1037.2 1109.7,1016.0 1110.8,1029.4 1111.6,1031.4 1112.3,1016.5 1113.6,1010.2 1113.8,1023.4 1115.3,1012.3 1115.5,1025.6 1116.5,1004.4 1116.7,1021.4 1118.1,1012.0 1118.4,1048.7 1119.2,1010.5 1120.5,1025.8 1121.3,1008.3 1121.6,1024.5 1122.2,1027.5 1122.7,1013.5 1123.7,1016.1 1124.5,1000.6 1124.6,1011.6 1126.1,998.7 1126.1,1019.8 1126.7,990.0 1127.3,1021.9 1128.6,1033.3 1129.0,1031.4 1129.6,1058.3 1130.2,1049.7 1131.2,1067.3 1131.9,1058.3 1131.9,1077.6 1132.5,1059.5 1133.7,1056.6 1134.2,1037.2 1134.8,1046.7 1135.3,1048.7 1136.0,1039.4 1137.5,1045.6 1137.6,1039.1 1139.0,1047.9 1139.6,1052.6 1140.3,1045.5 1141.5,1044.9 1141.7,1055.3 1143.2,1051.8 1143.4,1064.1 1144.4,1044.9 1144.4,1061.2 1145.5,1055.5 1146.4,1066.4 1148.0,1055.6 1148.2,1052.6 1148.2,1081.5 1149.1,1056.1 1150.3,1065.8 1151.1,1058.3 1151.5,1066.6 1152.1,1069.9 1153.2,1060.7 1154.0,1050.6 1154.7,1066.3 1155.6,1063.7 1156.9,1062.2 1157.1,1073.6 1157.3,1076.6 1158.1,1065.8 1159.0,1069.1 1160.3,1063.2 1160.5,1060.3 1160.5,1069.9"/>
<polyline fill="none" stroke="#000" stroke-width="4.2" stroke-dasharray="7.7 5.1" stroke-linejoin="round" points="599.3,1049.3 602.7,1075.3 607.8,1049.3 617.6,1040.0 621.8,1054.5 624.9,1055.6 630.1,1056.6 643.6,1041.0 648.4,1066.0 650.5,1051.4 655.1,1040.0 664.4,1056.6 667.6,1049.3 678.3,1053.5 684.1,1063.9 689.8,1018.1 696.0,991.1 713.7,956.8 719.9,974.5 724.1,1020.2 727.8,1023.3 732.4,1014.0 740.7,998.4 748.0,991.1 756.3,995.3 761.5,1009.8 765.7,945.3 773.0,949.5 776.1,932.8 779.2,939.1 782.3,955.7 793.8,964.0 797.9,931.8 801.1,943.2 808.3,947.4 814.6,934.9 821.9,945.3 828.1,944.3 834.3,955.7 836.4,989.0 840.6,1006.7 844.7,1001.5 849.3,962.0 854.1,955.7 863.5,970.3 868.7,951.6 878.0,954.7 884.3,946.4 890.5,980.7 895.7,981.7 899.9,1018.1 904.0,1022.3 910.3,999.4 919.6,988.0 927.7,981.3 939.3,986.1 956.6,999.6 962.4,981.3 968.1,963.0 973.0,975.5 975.9,1000.6 979.7,985.2 986.4,962.0 990.3,967.8 997.0,1004.4 1002.8,1000.6 1008.6,974.6 1014.4,987.1 1020.2,1023.7 1027.9,1048.7 1031.7,1062.2 1036.5,1062.2 1041.0,1087.2 1046.2,1044.9 1052.9,1044.9 1056.7,1106.5 1059.6,1148.9 1063.5,1131.5 1070.2,1135.4 1074.1,1087.2 1080.8,1071.8 1085.6,1085.3 1091.4,1052.6 1102.0,1069.9 1107.8,1120.0 1114.5,1135.4 1119.4,1099.8 1129.9,1100.7 1136.7,1112.3 1147.3,1148.9"/>
<polyline class="c" points="115.2,1272.3 117.3,1278.6 119.4,1289.0 121.4,1286.9 122.9,1272.3 123.7,1264.0 124.6,1289.0 125.4,1272.3 126.2,1297.3 127.1,1254.7 127.9,1293.1 128.7,1257.8 129.6,1284.8 130.4,1248.4 131.4,1282.7 132.3,1257.8 133.1,1291.1 134.1,1268.2 135.4,1282.7 136.6,1268.2 137.9,1276.5 138.7,1295.2 139.7,1272.3 140.8,1269.2 141.8,1280.7 142.9,1299.4 143.9,1282.7 144.9,1311.9 146.0,1320.2 147.0,1284.8 148.3,1274.4 149.5,1311.9 150.8,1297.3 152.2,1301.5 153.7,1297.3 154.9,1305.6 156.2,1291.1 157.4,1303.5 158.7,1293.1 159.9,1301.5 161.2,1291.1 162.4,1298.3 163.7,1273.4 165.8,1279.6 168.7,1280.7 170.3,1276.5 171.2,1286.9 172.2,1273.4 173.4,1293.1 174.5,1289.0 175.3,1326.4 176.6,1279.0 179.7,1311.9 183.9,1331.0 189.1,1303.5 194.3,1298.3 198.4,1289.0 204.0,1307.7 205.9,1321.8 207.8,1305.6 209.4,1301.5 211.5,1280.7 213.4,1291.5 214.6,1297.3 215.7,1291.5 216.9,1297.3 217.6,1291.1 218.4,1305.6 219.6,1291.5 221.3,1291.5 224.0,1310.2 225.5,1291.5 227.5,1316.0 233.8,1288.4 236.5,1292.1 239.4,1293.1 245.2,1302.5 252.7,1293.1 260.2,1298.8 267.7,1317.7 275.8,1289.0 295.1,1338.5 296.8,1298.8 298.5,1313.9 299.9,1313.9 301.6,1322.3 303.3,1319.1 305.1,1326.4 308.7,1290.6 311.8,1310.2 314.3,1290.0 317.0,1294.8 319.1,1296.3 320.7,1301.5 322.2,1299.8 325.5,1333.7 327.8,1268.6 329.1,1349.3 330.5,1350.3 332.6,1356.6 334.3,1338.5 335.9,1354.5 337.2,1320.2 337.8,1299.4 338.8,1318.1 339.9,1286.9 340.9,1313.9 342.0,1256.1 342.8,1305.6 343.8,1283.8 346.1,1305.0 348.6,1295.6 350.7,1318.1 352.4,1341.0 355.1,1352.8 357.6,1312.9 362.1,1284.8 368.0,1279.6 372.7,1311.4 378.3,1310.2 384.1,1328.9 389.8,1321.2 395.4,1308.1 405.0,1318.5 415.1,1308.1 419.9,1272.3 425.1,1239.5 431.6,1257.8 433.2,1270.3 434.7,1290.0 435.5,1284.8 436.8,1290.0 437.8,1291.1 439.3,1286.9 442.2,1257.4 443.8,1269.2 445.9,1269.8 448.6,1246.3 450.3,1272.3 452.0,1274.4 453.4,1247.4 454.9,1281.7 457.4,1269.2 459.5,1260.3 460.9,1263.0 462.2,1261.9 463.2,1265.1 464.7,1263.0 465.7,1266.1 466.9,1259.9 467.8,1267.1 468.6,1252.6 469.4,1274.4 470.3,1252.6 471.1,1268.2 471.9,1238.0 472.8,1267.1 473.6,1237.4 474.4,1268.2 475.3,1252.6 476.9,1292.7 479.6,1268.2 481.7,1247.4 483.4,1250.5 485.5,1279.2 490.7,1243.2 493.4,1237.0 495.9,1238.6 499.0,1256.7 501.1,1245.3 504.8,1244.3 506.9,1300.4 510.4,1245.3 512.5,1245.7 515.6,1243.8 518.1,1282.3 522.9,1275.5 528.1,1242.2 532.7,1244.3 536.4,1256.1 541.0,1234.9 545.4,1254.0 549.3,1249.5 551.6,1255.7 553.9,1249.5 556.2,1264.4 558.3,1267.1 560.6,1250.9 565.1,1285.9 566.6,1288.4 567.6,1247.4 568.7,1247.4 569.7,1281.3 571.8,1235.9 573.5,1249.5 574.9,1241.1 576.4,1265.1 577.6,1246.3 579.1,1252.6 580.5,1245.3 582.2,1239.1 583.6,1245.3 585.1,1234.9 586.3,1227.6 587.4,1242.2 588.4,1230.7 589.1,1267.1 590.1,1228.6 591.1,1220.3 592.2,1271.3 593.2,1220.3 594.3,1245.3 595.3,1219.3 596.3,1245.3 597.4,1228.6 598.2,1250.5 599.3,1220.3 600.3,1243.2 601.3,1216.2 602.8,1248.4 605.1,1222.4 607.6,1203.3 609.7,1203.3 611.7,1211.0 614.0,1239.1 616.5,1197.9 619.2,1226.2 622.8,1218.2 626.9,1227.0 630.5,1211.0 634.6,1231.1 641.4,1216.6 645.6,1220.7 649.8,1211.0 653.9,1225.5 657.7,1229.1 661.2,1213.0 665.4,1221.8 667.9,1224.5 670.8,1240.7 673.7,1220.3 676.2,1217.2 679.3,1216.6 682.0,1220.3 685.1,1244.3 688.7,1227.0 692.2,1263.0 695.9,1240.5 699.7,1247.8 703.2,1227.0 707.0,1218.9 710.5,1255.7 717.8,1218.9 721.5,1245.3 725.1,1232.8 728.2,1225.5 731.1,1239.7 736.7,1196.4 739.6,1227.0 742.3,1209.9 745.5,1218.9 748.6,1214.1 751.7,1199.9 754.4,1202.6 757.1,1214.5 760.0,1195.8 765.2,1203.7 771.0,1202.6 776.0,1218.9 781.9,1206.2 787.7,1203.3 789.8,1233.2 792.9,1205.8 796.4,1198.1 798.5,1202.6 800.6,1214.5 802.7,1217.2 810.6,1209.9 811.4,1224.5 812.2,1209.9 813.1,1240.1 813.9,1202.6 814.7,1228.6 815.6,1199.5 816.6,1265.5 817.6,1222.4 818.7,1264.0 819.7,1220.3 820.8,1243.2 821.8,1222.4 822.8,1234.9 823.9,1207.8 824.7,1191.2 825.5,1222.4 826.4,1190.2 827.2,1228.6 827.8,1240.1 828.7,1190.2 829.5,1226.6 829.9,1187.5 831.0,1228.6 831.8,1203.7 832.8,1239.1 833.9,1216.2 835.1,1256.1 836.4,1220.3 837.4,1199.9 838.7,1217.2 840.5,1210.6 842.6,1215.8 847.0,1190.6 850.5,1224.5 852.2,1227.2 854.3,1222.4 856.1,1210.6 858.4,1227.0 860.9,1191.6 863.0,1214.5 865.7,1216.6 868.2,1198.1 870.3,1215.1 872.8,1197.4 874.9,1209.9 876.9,1212.0 879.6,1191.6 881.7,1189.1 884.2,1204.7 886.3,1203.7 888.6,1222.4 899.3,1211.8 901.2,1195.6 902.5,1201.0 904.2,1193.9 907.3,1273.2 909.0,1274.3 911.4,1281.2 914.2,1266.8 916.5,1265.7 921.7,1243.0 924.1,1203.8 926.7,1211.8 929.3,1209.2 934.9,1226.4 937.0,1224.7 939.6,1227.3 947.2,1201.0 950.0,1237.2 952.1,1257.5 954.7,1260.3 959.5,1220.4 962.3,1250.6 964.8,1263.1 967.0,1221.5 969.8,1221.5 972.0,1229.5 974.6,1229.0 979.5,1240.2 982.8,1273.2 986.4,1233.3 988.1,1246.7 990.3,1232.3 991.8,1217.8 993.5,1213.5 996.1,1210.7 999.4,1258.1 1002.2,1238.7 1004.3,1204.2 1005.8,1204.9 1008.6,1235.5 1010.4,1221.0 1011.9,1225.8 1014.7,1215.4 1016.8,1234.0 1018.8,1214.6 1022.0,1224.7 1023.7,1256.0 1025.5,1256.6 1026.5,1238.7 1028.3,1272.2 1030.6,1226.9 1032.4,1220.4 1035.0,1223.6 1036.7,1211.8 1039.9,1216.1 1041.6,1232.3 1043.1,1227.9 1044.9,1211.8 1046.4,1221.5 1047.9,1262.5 1049.6,1248.9 1051.1,1254.9 1055.0,1217.2 1058.2,1224.7 1059.8,1276.5 1061.5,1289.4 1063.0,1292.7 1069.0,1262.5 1071.6,1262.5 1073.3,1232.3 1077.7,1253.8 1079.2,1253.8 1081.5,1236.6 1085.2,1262.5 1087.4,1259.2 1089.5,1238.7 1091.0,1302.4 1092.8,1312.1 1097.7,1261.8 1099.7,1276.5 1101.4,1306.7 1102.9,1301.7 1104.6,1306.7 1106.4,1288.3 1107.9,1290.5 1109.2,1311.0 1110.4,1308.8 1112.2,1312.7 1113.7,1312.1 1115.4,1302.8 1116.9,1308.8 1118.6,1309.9 1121.2,1338.6 1124.0,1345.5 1125.5,1349.8 1126.8,1349.8 1128.8,1344.0 1131.2,1356.3 1132.7,1357.4 1134.4,1375.7 1135.9,1377.4 1137.4,1361.7 1139.1,1360.2 1143.0,1387.6 1145.0,1349.8 1146.7,1349.4 1148.8,1342.3 1152.1,1355.2 1154.9,1344.0 1157.5,1356.3 1158.1,1343.3 1159.6,1357.4 1160.7,1344.4"/>
<polyline class="c" points="114.9,1617.8 117.3,1603.5 123.1,1594.6 132.5,1608.8 143.5,1613.7 154.1,1589.2 165.1,1597.4 176.2,1584.3 186.8,1597.4 197.8,1596.6 208.8,1608.8 219.4,1601.5 230.9,1622.7 241.9,1597.4 252.9,1619.1 264.4,1614.2 275.4,1613.7 287.6,1611.7 299.9,1625.2 311.3,1605.6 322.3,1604.8 335.4,1602.3 347.7,1624.8 359.9,1602.7 371.3,1606.4 383.6,1602.3 395.8,1624.0 408.1,1590.1 421.1,1603.1 433.4,1603.1 446.1,1616.6 459.1,1612.5 471.8,1588.4 483.6,1590.5 497.1,1620.7 510.2,1586.4 523.6,1576.2 537.1,1590.5 550.2,1594.1 563.7,1571.7 577.5,1555.8 591.0,1547.2 604.1,1552.1 617.6,1550.5 631.4,1561.5 645.8,1526.5 659.1,1522.4 673.7,1540.2 687.4,1536.1 701.6,1524.4 716.1,1511.1 730.7,1519.9 744.8,1525.7 759.4,1541.1 773.9,1523.6 788.1,1536.1 803.5,1528.6 818.5,1534.8 832.6,1509.9 847.6,1515.7 863.0,1511.5 878.0,1517.4 893.3,1509.9 908.7,1502.4 924.1,1512.0 939.1,1506.5 954.9,1493.7 970.7,1468.3 986.5,1490.7 1001.9,1495.3 1018.2,1477.8 1033.5,1476.2 1049.4,1477.4 1065.6,1465.4 1082.2,1495.7 1098.0,1499.5 1114.7,1499.1 1132.1,1520.7 1148.0,1546.5 1161.3,1573.5"/>
<polyline class="c" points="115.4,1907.3 117.5,1941.9 119.9,1942.8 122.6,1945.8 127.1,1877.3 131.0,1904.9 135.5,1896.2 144.6,1942.8 153.6,1908.8 162.6,1844.8 171.6,1825.3 180.0,1756.5 189.0,1892.3 197.7,1875.8 206.8,1835.2 215.8,1960.5 224.2,1959.0 241.3,1954.5 258.1,1942.5 275.3,1947.6 292.1,1858.7 308.9,1912.4 325.7,1924.2 342.6,1906.7 359.4,1865.9 367.5,1935.9 375.6,1814.2 384.0,1836.7 391.5,1862.9 406.0,1866.5 420.4,1874.6 434.5,1870.1 448.9,1809.4 463.4,1813.3 478.1,1852.3 492.2,1893.1 534.2,1779.7 576.2,1859.5 618.2,1837.2 660.2,1879.2 702.2,1884.5 762.3,1822.8 822.9,1872.2 883.0,1753.2 943.6,1722.9 951.6,1787.7 959.5,1773.4 967.5,1763.8 1021.2,1795.2 1076.0,1869.1 1129.7,1872.2 1162.1,1793.0"/>
<path class="f" d="M115.0 65.0H1162.0V1970.0H115.0ZM115.0 337.1H1162.0M115.0 609.3H1162.0M115.0 881.4H1162.0M115.0 1153.6H1162.0M115.0 1425.7H1162.0M115.0 1697.9H1162.0M132.45 65.00V71.10M149.90 65.00V71.10M167.35 65.00V71.10M184.80 65.00V71.10M202.25 65.00V71.10M219.70 65.00V71.10M237.15 65.00V71.10M254.60 65.00V71.10M272.05 65.00V71.10M289.50 65.00V75.40M306.95 65.00V71.10M324.40 65.00V71.10M341.85 65.00V71.10M359.30 65.00V71.10M376.75 65.00V71.10M394.20 65.00V71.10M411.65 65.00V71.10M429.10 65.00V71.10M446.55 65.00V71.10M464.00 65.00V75.40M481.45 65.00V71.10M498.90 65.00V71.10M516.35 65.00V71.10M533.80 65.00V71.10M551.25 65.00V71.10M568.70 65.00V71.10M586.15 65.00V71.10M603.60 65.00V71.10M621.05 65.00V71.10M638.50 65.00V75.40M655.95 65.00V71.10M673.40 65.00V71.10M690.85 65.00V71.10M708.30 65.00V71.10M725.75 65.00V71.10M743.20 65.00V71.10M760.65 65.00V71.10M778.10 65.00V71.10M795.55 65.00V71.10M813.00 65.00V75.40M830.45 65.00V71.10M847.90 65.00V71.10M865.35 65.00V71.10M882.80 65.00V71.10M900.25 65.00V71.10M917.70 65.00V71.10M935.15 65.00V71.10M952.60 65.00V71.10M970.05 65.00V71.10M987.50 65.00V75.40M1004.95 65.00V71.10M1022.40 65.00V71.10M1039.85 65.00V71.10M1057.30 65.00V71.10M1074.75 65.00V71.10M1092.20 65.00V71.10M1109.65 65.00V71.10M1127.10 65.00V71.10M1144.55 65.00V71.10M132.45 331.04V343.24M149.90 331.04V343.24M167.35 331.04V343.24M184.80 331.04V343.24M202.25 331.04V343.24M219.70 331.04V343.24M237.15 331.04V343.24M254.60 331.04V343.24M272.05 331.04V343.24M289.50 326.74V347.54M306.95 331.04V343.24M324.40 331.04V343.24M341.85 331.04V343.24M359.30 331.04V343.24M376.75 331.04V343.24M394.20 331.04V343.24M411.65 331.04V343.24M429.10 331.04V343.24M446.55 331.04V343.24M464.00 326.74V347.54M481.45 331.04V343.24M498.90 331.04V343.24M516.35 331.04V343.24M533.80 331.04V343.24M551.25 331.04V343.24M568.70 331.04V343.24M586.15 331.04V343.24M603.60 331.04V343.24M621.05 331.04V343.24M638.50 326.74V347.54M655.95 331.04V343.24M673.40 331.04V343.24M690.85 331.04V343.24M708.30 331.04V343.24M725.75 331.04V343.24M743.20 331.04V343.24M760.65 331.04V343.24M778.10 331.04V343.24M795.55 331.04V343.24M813.00 326.74V347.54M830.45 331.04V343.24M847.90 331.04V343.24M865.35 331.04V343.24M882.80 331.04V343.24M900.25 331.04V343.24M917.70 331.04V343.24M935.15 331.04V343.24M952.60 331.04V343.24M970.05 331.04V343.24M987.50 326.74V347.54M1004.95 331.04V343.24M1022.40 331.04V343.24M1039.85 331.04V343.24M1057.30 331.04V343.24M1074.75 331.04V343.24M1092.20 331.04V343.24M1109.65 331.04V343.24M1127.10 331.04V343.24M1144.55 331.04V343.24M132.45 603.19V615.39M149.90 603.19V615.39M167.35 603.19V615.39M184.80 603.19V615.39M202.25 603.19V615.39M219.70 603.19V615.39M237.15 603.19V615.39M254.60 603.19V615.39M272.05 603.19V615.39M289.50 598.89V619.69M306.95 603.19V615.39M324.40 603.19V615.39M341.85 603.19V615.39M359.30 603.19V615.39M376.75 603.19V615.39M394.20 603.19V615.39M411.65 603.19V615.39M429.10 603.19V615.39M446.55 603.19V615.39M464.00 598.89V619.69M481.45 603.19V615.39M498.90 603.19V615.39M516.35 603.19V615.39M533.80 603.19V615.39M551.25 603.19V615.39M568.70 603.19V615.39M586.15 603.19V615.39M603.60 603.19V615.39M621.05 603.19V615.39M638.50 598.89V619.69M655.95 603.19V615.39M673.40 603.19V615.39M690.85 603.19V615.39M708.30 603.19V615.39M725.75 603.19V615.39M743.20 603.19V615.39M760.65 603.19V615.39M778.10 603.19V615.39M795.55 603.19V615.39M813.00 598.89V619.69M830.45 603.19V615.39M847.90 603.19V615.39M865.35 603.19V615.39M882.80 603.19V615.39M900.25 603.19V615.39M917.70 603.19V615.39M935.15 603.19V615.39M952.60 603.19V615.39M970.05 603.19V615.39M987.50 598.89V619.69M1004.95 603.19V615.39M1022.40 603.19V615.39M1039.85 603.19V615.39M1057.30 603.19V615.39M1074.75 603.19V615.39M1092.20 603.19V615.39M1109.65 603.19V615.39M1127.10 603.19V615.39M1144.55 603.19V615.39M132.45 875.33V887.53M149.90 875.33V887.53M167.35 875.33V887.53M184.80 875.33V887.53M202.25 875.33V887.53M219.70 875.33V887.53M237.15 875.33V887.53M254.60 875.33V887.53M272.05 875.33V887.53M289.50 871.03V891.83M306.95 875.33V887.53M324.40 875.33V887.53M341.85 875.33V887.53M359.30 875.33V887.53M376.75 875.33V887.53M394.20 875.33V887.53M411.65 875.33V887.53M429.10 875.33V887.53M446.55 875.33V887.53M464.00 871.03V891.83M481.45 875.33V887.53M498.90 875.33V887.53M516.35 875.33V887.53M533.80 875.33V887.53M551.25 875.33V887.53M568.70 875.33V887.53M586.15 875.33V887.53M603.60 875.33V887.53M621.05 875.33V887.53M638.50 871.03V891.83M655.95 875.33V887.53M673.40 875.33V887.53M690.85 875.33V887.53M708.30 875.33V887.53M725.75 875.33V887.53M743.20 875.33V887.53M760.65 875.33V887.53M778.10 875.33V887.53M795.55 875.33V887.53M813.00 871.03V891.83M830.45 875.33V887.53M847.90 875.33V887.53M865.35 875.33V887.53M882.80 875.33V887.53M900.25 875.33V887.53M917.70 875.33V887.53M935.15 875.33V887.53M952.60 875.33V887.53M970.05 875.33V887.53M987.50 871.03V891.83M1004.95 875.33V887.53M1022.40 875.33V887.53M1039.85 875.33V887.53M1057.30 875.33V887.53M1074.75 875.33V887.53M1092.20 875.33V887.53M1109.65 875.33V887.53M1127.10 875.33V887.53M1144.55 875.33V887.53M132.45 1147.47V1159.67M149.90 1147.47V1159.67M167.35 1147.47V1159.67M184.80 1147.47V1159.67M202.25 1147.47V1159.67M219.70 1147.47V1159.67M237.15 1147.47V1159.67M254.60 1147.47V1159.67M272.05 1147.47V1159.67M289.50 1143.17V1163.97M306.95 1147.47V1159.67M324.40 1147.47V1159.67M341.85 1147.47V1159.67M359.30 1147.47V1159.67M376.75 1147.47V1159.67M394.20 1147.47V1159.67M411.65 1147.47V1159.67M429.10 1147.47V1159.67M446.55 1147.47V1159.67M464.00 1143.17V1163.97M481.45 1147.47V1159.67M498.90 1147.47V1159.67M516.35 1147.47V1159.67M533.80 1147.47V1159.67M551.25 1147.47V1159.67M568.70 1147.47V1159.67M586.15 1147.47V1159.67M603.60 1147.47V1159.67M621.05 1147.47V1159.67M638.50 1143.17V1163.97M655.95 1147.47V1159.67M673.40 1147.47V1159.67M690.85 1147.47V1159.67M708.30 1147.47V1159.67M725.75 1147.47V1159.67M743.20 1147.47V1159.67M760.65 1147.47V1159.67M778.10 1147.47V1159.67M795.55 1147.47V1159.67M813.00 1143.17V1163.97M830.45 1147.47V1159.67M847.90 1147.47V1159.67M865.35 1147.47V1159.67M882.80 1147.47V1159.67M900.25 1147.47V1159.67M917.70 1147.47V1159.67M935.15 1147.47V1159.67M952.60 1147.47V1159.67M970.05 1147.47V1159.67M987.50 1143.17V1163.97M1004.95 1147.47V1159.67M1022.40 1147.47V1159.67M1039.85 1147.47V1159.67M1057.30 1147.47V1159.67M1074.75 1147.47V1159.67M1092.20 1147.47V1159.67M1109.65 1147.47V1159.67M1127.10 1147.47V1159.67M1144.55 1147.47V1159.67M132.45 1419.61V1431.81M149.90 1419.61V1431.81M167.35 1419.61V1431.81M184.80 1419.61V1431.81M202.25 1419.61V1431.81M219.70 1419.61V1431.81M237.15 1419.61V1431.81M254.60 1419.61V1431.81M272.05 1419.61V1431.81M289.50 1415.31V1436.11M306.95 1419.61V1431.81M324.40 1419.61V1431.81M341.85 1419.61V1431.81M359.30 1419.61V1431.81M376.75 1419.61V1431.81M394.20 1419.61V1431.81M411.65 1419.61V1431.81M429.10 1419.61V1431.81M446.55 1419.61V1431.81M464.00 1415.31V1436.11M481.45 1419.61V1431.81M498.90 1419.61V1431.81M516.35 1419.61V1431.81M533.80 1419.61V1431.81M551.25 1419.61V1431.81M568.70 1419.61V1431.81M586.15 1419.61V1431.81M603.60 1419.61V1431.81M621.05 1419.61V1431.81M638.50 1415.31V1436.11M655.95 1419.61V1431.81M673.40 1419.61V1431.81M690.85 1419.61V1431.81M708.30 1419.61V1431.81M725.75 1419.61V1431.81M743.20 1419.61V1431.81M760.65 1419.61V1431.81M778.10 1419.61V1431.81M795.55 1419.61V1431.81M813.00 1415.31V1436.11M830.45 1419.61V1431.81M847.90 1419.61V1431.81M865.35 1419.61V1431.81M882.80 1419.61V1431.81M900.25 1419.61V1431.81M917.70 1419.61V1431.81M935.15 1419.61V1431.81M952.60 1419.61V1431.81M970.05 1419.61V1431.81M987.50 1415.31V1436.11M1004.95 1419.61V1431.81M1022.40 1419.61V1431.81M1039.85 1419.61V1431.81M1057.30 1419.61V1431.81M1074.75 1419.61V1431.81M1092.20 1419.61V1431.81M1109.65 1419.61V1431.81M1127.10 1419.61V1431.81M1144.55 1419.61V1431.81M132.45 1691.76V1703.96M149.90 1691.76V1703.96M167.35 1691.76V1703.96M184.80 1691.76V1703.96M202.25 1691.76V1703.96M219.70 1691.76V1703.96M237.15 1691.76V1703.96M254.60 1691.76V1703.96M272.05 1691.76V1703.96M289.50 1687.46V1708.26M306.95 1691.76V1703.96M324.40 1691.76V1703.96M341.85 1691.76V1703.96M359.30 1691.76V1703.96M376.75 1691.76V1703.96M394.20 1691.76V1703.96M411.65 1691.76V1703.96M429.10 1691.76V1703.96M446.55 1691.76V1703.96M464.00 1687.46V1708.26M481.45 1691.76V1703.96M498.90 1691.76V1703.96M516.35 1691.76V1703.96M533.80 1691.76V1703.96M551.25 1691.76V1703.96M568.70 1691.76V1703.96M586.15 1691.76V1703.96M603.60 1691.76V1703.96M621.05 1691.76V1703.96M638.50 1687.46V1708.26M655.95 1691.76V1703.96M673.40 1691.76V1703.96M690.85 1691.76V1703.96M708.30 1691.76V1703.96M725.75 1691.76V1703.96M743.20 1691.76V1703.96M760.65 1691.76V1703.96M778.10 1691.76V1703.96M795.55 1691.76V1703.96M813.00 1687.46V1708.26M830.45 1691.76V1703.96M847.90 1691.76V1703.96M865.35 1691.76V1703.96M882.80 1691.76V1703.96M900.25 1691.76V1703.96M917.70 1691.76V1703.96M935.15 1691.76V1703.96M952.60 1691.76V1703.96M970.05 1691.76V1703.96M987.50 1687.46V1708.26M1004.95 1691.76V1703.96M1022.40 1691.76V1703.96M1039.85 1691.76V1703.96M1057.30 1691.76V1703.96M1074.75 1691.76V1703.96M1092.20 1691.76V1703.96M1109.65 1691.76V1703.96M1127.10 1691.76V1703.96M1144.55 1691.76V1703.96M132.45 1963.90V1970.00M149.90 1963.90V1970.00M167.35 1963.90V1970.00M184.80 1963.90V1970.00M202.25 1963.90V1970.00M219.70 1963.90V1970.00M237.15 1963.90V1970.00M254.60 1963.90V1970.00M272.05 1963.90V1970.00M289.50 1959.60V1970.00M306.95 1963.90V1970.00M324.40 1963.90V1970.00M341.85 1963.90V1970.00M359.30 1963.90V1970.00M376.75 1963.90V1970.00M394.20 1963.90V1970.00M411.65 1963.90V1970.00M429.10 1963.90V1970.00M446.55 1963.90V1970.00M464.00 1959.60V1970.00M481.45 1963.90V1970.00M498.90 1963.90V1970.00M516.35 1963.90V1970.00M533.80 1963.90V1970.00M551.25 1963.90V1970.00M568.70 1963.90V1970.00M586.15 1963.90V1970.00M603.60 1963.90V1970.00M621.05 1963.90V1970.00M638.50 1959.60V1970.00M655.95 1963.90V1970.00M673.40 1963.90V1970.00M690.85 1963.90V1970.00M708.30 1963.90V1970.00M725.75 1963.90V1970.00M743.20 1963.90V1970.00M760.65 1963.90V1970.00M778.10 1963.90V1970.00M795.55 1963.90V1970.00M813.00 1959.60V1970.00M830.45 1963.90V1970.00M847.90 1963.90V1970.00M865.35 1963.90V1970.00M882.80 1963.90V1970.00M900.25 1963.90V1970.00M917.70 1963.90V1970.00M935.15 1963.90V1970.00M952.60 1963.90V1970.00M970.05 1963.90V1970.00M987.50 1959.60V1970.00M1004.95 1963.90V1970.00M1022.40 1963.90V1970.00M1039.85 1963.90V1970.00M1057.30 1963.90V1970.00M1074.75 1963.90V1970.00M1092.20 1963.90V1970.00M1109.65 1963.90V1970.00M1127.10 1963.90V1970.00M1144.55 1963.90V1970.00M115.0 77.56h6.1M1162.0 77.56h-6.1M115.0 90.12h6.1M1162.0 90.12h-6.1M115.0 102.68h6.1M1162.0 102.68h-6.1M115.0 115.24h6.1M1162.0 115.24h-6.1M115.0 127.80h10.4M1162.0 127.80h-10.4M115.0 140.36h6.1M1162.0 140.36h-6.1M115.0 152.92h6.1M1162.0 152.92h-6.1M115.0 165.48h6.1M1162.0 165.48h-6.1M115.0 178.04h6.1M1162.0 178.04h-6.1M115.0 190.60h10.4M1162.0 190.60h-10.4M115.0 203.16h6.1M1162.0 203.16h-6.1M115.0 215.73h6.1M1162.0 215.73h-6.1M115.0 228.29h6.1M1162.0 228.29h-6.1M115.0 240.85h6.1M1162.0 240.85h-6.1M115.0 253.41h10.4M1162.0 253.41h-10.4M115.0 265.97h6.1M1162.0 265.97h-6.1M115.0 278.53h6.1M1162.0 278.53h-6.1M115.0 291.09h6.1M1162.0 291.09h-6.1M115.0 303.65h6.1M1162.0 303.65h-6.1M115.0 316.21h10.4M1162.0 316.21h-10.4M115.0 328.77h6.1M1162.0 328.77h-6.1M115.0 354.15h6.1M1162.0 354.15h-6.1M115.0 371.16h6.1M1162.0 371.16h-6.1M115.0 388.17h6.1M1162.0 388.17h-6.1M115.0 405.18h6.1M1162.0 405.18h-6.1M115.0 422.19h10.4M1162.0 422.19h-10.4M115.0 439.20h6.1M1162.0 439.20h-6.1M115.0 456.21h6.1M1162.0 456.21h-6.1M115.0 473.21h6.1M1162.0 473.21h-6.1M115.0 490.22h6.1M1162.0 490.22h-6.1M115.0 507.23h10.4M1162.0 507.23h-10.4M115.0 524.24h6.1M1162.0 524.24h-6.1M115.0 541.25h6.1M1162.0 541.25h-6.1M115.0 558.26h6.1M1162.0 558.26h-6.1M115.0 575.27h6.1M1162.0 575.27h-6.1M115.0 592.28h10.4M1162.0 592.28h-10.4M115.0 622.89h6.1M1162.0 622.89h-6.1M115.0 636.50h6.1M1162.0 636.50h-6.1M115.0 650.11h6.1M1162.0 650.11h-6.1M115.0 663.71h6.1M1162.0 663.71h-6.1M115.0 677.32h10.4M1162.0 677.32h-10.4M115.0 690.93h6.1M1162.0 690.93h-6.1M115.0 704.54h6.1M1162.0 704.54h-6.1M115.0 718.14h6.1M1162.0 718.14h-6.1M115.0 731.75h6.1M1162.0 731.75h-6.1M115.0 745.36h10.4M1162.0 745.36h-10.4M115.0 758.96h6.1M1162.0 758.96h-6.1M115.0 772.57h6.1M1162.0 772.57h-6.1M115.0 786.18h6.1M1162.0 786.18h-6.1M115.0 799.79h6.1M1162.0 799.79h-6.1M115.0 813.39h10.4M1162.0 813.39h-10.4M115.0 827.00h6.1M1162.0 827.00h-6.1M115.0 840.61h6.1M1162.0 840.61h-6.1M115.0 854.21h6.1M1162.0 854.21h-6.1M115.0 867.82h6.1M1162.0 867.82h-6.1M115.0 895.04h6.1M1162.0 895.04h-6.1M115.0 908.64h6.1M1162.0 908.64h-6.1M115.0 922.25h6.1M1162.0 922.25h-6.1M115.0 935.86h6.1M1162.0 935.86h-6.1M115.0 949.46h10.4M1162.0 949.46h-10.4M115.0 963.07h6.1M1162.0 963.07h-6.1M115.0 976.68h6.1M1162.0 976.68h-6.1M115.0 990.29h6.1M1162.0 990.29h-6.1M115.0 1003.89h6.1M1162.0 1003.89h-6.1M115.0 1017.50h10.4M1162.0 1017.50h-10.4M115.0 1031.11h6.1M1162.0 1031.11h-6.1M115.0 1044.71h6.1M1162.0 1044.71h-6.1M115.0 1058.32h6.1M1162.0 1058.32h-6.1M115.0 1071.93h6.1M1162.0 1071.93h-6.1M115.0 1085.54h10.4M1162.0 1085.54h-10.4M115.0 1099.14h6.1M1162.0 1099.14h-6.1M115.0 1112.75h6.1M1162.0 1112.75h-6.1M115.0 1126.36h6.1M1162.0 1126.36h-6.1M115.0 1139.96h6.1M1162.0 1139.96h-6.1M115.0 1165.67h6.1M1162.0 1165.67h-6.1M115.0 1177.76h6.1M1162.0 1177.76h-6.1M115.0 1189.86h6.1M1162.0 1189.86h-6.1M115.0 1201.95h6.1M1162.0 1201.95h-6.1M115.0 1214.05h10.4M1162.0 1214.05h-10.4M115.0 1226.14h6.1M1162.0 1226.14h-6.1M115.0 1238.24h6.1M1162.0 1238.24h-6.1M115.0 1250.33h6.1M1162.0 1250.33h-6.1M115.0 1262.43h6.1M1162.0 1262.43h-6.1M115.0 1274.52h10.4M1162.0 1274.52h-10.4M115.0 1286.62h6.1M1162.0 1286.62h-6.1M115.0 1298.71h6.1M1162.0 1298.71h-6.1M115.0 1310.81h6.1M1162.0 1310.81h-6.1M115.0 1322.90h6.1M1162.0 1322.90h-6.1M115.0 1335.00h10.4M1162.0 1335.00h-10.4M115.0 1347.10h6.1M1162.0 1347.10h-6.1M115.0 1359.19h6.1M1162.0 1359.19h-6.1M115.0 1371.29h6.1M1162.0 1371.29h-6.1M115.0 1383.38h6.1M1162.0 1383.38h-6.1M115.0 1395.48h10.4M1162.0 1395.48h-10.4M115.0 1407.57h6.1M1162.0 1407.57h-6.1M115.0 1419.67h6.1M1162.0 1419.67h-6.1M115.0 1439.32h6.1M1162.0 1439.32h-6.1M115.0 1452.93h6.1M1162.0 1452.93h-6.1M115.0 1466.54h6.1M1162.0 1466.54h-6.1M115.0 1480.14h6.1M1162.0 1480.14h-6.1M115.0 1493.75h10.4M1162.0 1493.75h-10.4M115.0 1507.36h6.1M1162.0 1507.36h-6.1M115.0 1520.96h6.1M1162.0 1520.96h-6.1M115.0 1534.57h6.1M1162.0 1534.57h-6.1M115.0 1548.18h6.1M1162.0 1548.18h-6.1M115.0 1561.79h10.4M1162.0 1561.79h-10.4M115.0 1575.39h6.1M1162.0 1575.39h-6.1M115.0 1589.00h6.1M1162.0 1589.00h-6.1M115.0 1602.61h6.1M1162.0 1602.61h-6.1M115.0 1616.21h6.1M1162.0 1616.21h-6.1M115.0 1629.82h10.4M1162.0 1629.82h-10.4M115.0 1643.43h6.1M1162.0 1643.43h-6.1M115.0 1657.04h6.1M1162.0 1657.04h-6.1M115.0 1670.64h6.1M1162.0 1670.64h-6.1M115.0 1684.25h6.1M1162.0 1684.25h-6.1M115.0 1711.46h6.1M1162.0 1711.46h-6.1M115.0 1725.07h6.1M1162.0 1725.07h-6.1M115.0 1738.68h6.1M1162.0 1738.68h-6.1M115.0 1752.29h6.1M1162.0 1752.29h-6.1M115.0 1765.89h10.4M1162.0 1765.89h-10.4M115.0 1779.50h6.1M1162.0 1779.50h-6.1M115.0 1793.11h6.1M1162.0 1793.11h-6.1M115.0 1806.71h6.1M1162.0 1806.71h-6.1M115.0 1820.32h6.1M1162.0 1820.32h-6.1M115.0 1833.93h10.4M1162.0 1833.93h-10.4M115.0 1847.54h6.1M1162.0 1847.54h-6.1M115.0 1861.14h6.1M1162.0 1861.14h-6.1M115.0 1874.75h6.1M1162.0 1874.75h-6.1M115.0 1888.36h6.1M1162.0 1888.36h-6.1M115.0 1901.96h10.4M1162.0 1901.96h-10.4M115.0 1915.57h6.1M1162.0 1915.57h-6.1M115.0 1929.18h6.1M1162.0 1929.18h-6.1M115.0 1942.79h6.1M1162.0 1942.79h-6.1M115.0 1956.39h6.1M1162.0 1956.39h-6.1"/>
<path d="M117 36 H464.5 M497.7 36 H813.3 M846.5 36 H1104" stroke="#000" stroke-width="1.6" fill="none"/>
<path d="M100.8 36.0L120.6 27.4Q116.0 36.0 120.6 44.6ZM480.3 36.0L460.5 27.4Q465.1 36.0 460.5 44.6ZM481.8 36.0L501.6 27.4Q497.0 36.0 501.6 44.6ZM829.6 36.0L809.8 27.4Q814.4 36.0 809.8 44.6ZM830.6 36.0L850.4 27.4Q845.8 36.0 850.4 44.6ZM1120.3 36.0L1100.5 27.4Q1105.1 36.0 1100.5 44.6Z" fill="#000"/>
<text class="hl" transform="translate(323.7 24.5) scale(1 1.04)" text-anchor="middle">Late Holocene</text>
<text class="hl" transform="translate(645.0 24.5) scale(1 1.04)" text-anchor="middle">Middle Holocene</text>
<text class="hl" transform="translate(963.3 24.5) scale(1 1.04)" text-anchor="middle">Early Holocene</text>
<text class="tk" transform="translate(107.3 77.4) scale(1 1.04)" text-anchor="end">30</text>
<text class="tk" transform="translate(107.3 140.2) scale(1 1.04)" text-anchor="end">24</text>
<text class="tk" transform="translate(107.3 203.0) scale(1 1.04)" text-anchor="end">18</text>
<text class="tk" transform="translate(107.3 265.8) scale(1 1.04)" text-anchor="end">12</text>
<text class="tk" transform="translate(104.6 328.6) scale(1 1.04)" text-anchor="end">6</text>
<text class="tk" transform="translate(109.8 619.3) scale(1 1.04)" text-anchor="end">-25</text>
<text class="tk" transform="translate(109.8 687.3) scale(1 1.04)" text-anchor="end">-20</text>
<text class="tk" transform="translate(109.8 755.4) scale(1 1.04)" text-anchor="end">-15</text>
<text class="tk" transform="translate(109.8 823.4) scale(1 1.04)" text-anchor="end">-10</text>
<text class="tk" transform="translate(107.4 891.4) scale(1 1.04)" text-anchor="end">-5</text>
<text class="tk" transform="translate(109.8 1163.1) scale(1 1.04)" text-anchor="end">-10</text>
<text class="tk" transform="translate(107.4 1223.5) scale(1 1.04)" text-anchor="end">-9</text>
<text class="tk" transform="translate(107.4 1284.0) scale(1 1.04)" text-anchor="end">-8</text>
<text class="tk" transform="translate(107.4 1344.5) scale(1 1.04)" text-anchor="end">-7</text>
<text class="tk" transform="translate(107.4 1405.0) scale(1 1.04)" text-anchor="end">-6</text>
<text class="tk" transform="translate(106.7 1708.1) scale(1 1.04)" text-anchor="end">28</text>
<text class="tk" transform="translate(106.7 1776.1) scale(1 1.04)" text-anchor="end">21</text>
<text class="tk" transform="translate(106.7 1844.1) scale(1 1.04)" text-anchor="end">14</text>
<text class="tk" transform="translate(104.5 1912.2) scale(1 1.04)" text-anchor="end">7</text>
<text class="tk" transform="translate(104.5 1980.2) scale(1 1.04)" text-anchor="end">0</text>
<text class="tk" transform="translate(1206.8 346.2) scale(1 1.04)" text-anchor="end">-3</text>
<text class="tk" transform="translate(1206.8 431.3) scale(1 1.04)" text-anchor="end">-2</text>
<text class="tk" transform="translate(1206.8 516.3) scale(1 1.04)" text-anchor="end">-1</text>
<text class="tk" transform="translate(1206.8 601.4) scale(1 1.04)" text-anchor="end">0</text>
<text class="tk" transform="translate(1175.6 891.5) scale(1 1.04)" text-anchor="start">-8</text>
<text class="tk" transform="translate(1175.6 959.6) scale(1 1.04)" text-anchor="start">-7</text>
<text class="tk" transform="translate(1175.6 1027.6) scale(1 1.04)" text-anchor="start">-6</text>
<text class="tk" transform="translate(1175.6 1095.6) scale(1 1.04)" text-anchor="start">-5</text>
<text class="tk" transform="translate(1175.6 1163.7) scale(1 1.04)" text-anchor="start">-4</text>
<text class="tk" transform="translate(1174.4 1435.8) scale(1 1.04)" text-anchor="start">800</text>
<text class="tk" transform="translate(1174.4 1503.8) scale(1 1.04)" text-anchor="start">600</text>
<text class="tk" transform="translate(1174.4 1571.9) scale(1 1.04)" text-anchor="start">400</text>
<text class="tk" transform="translate(1174.4 1639.9) scale(1 1.04)" text-anchor="start">200</text>
<text class="tk" transform="translate(1174.4 1708.0) scale(1 1.04)" text-anchor="start">0</text>
<text class="tk" transform="translate(116.5 2010) scale(1 1.04)" text-anchor="middle">0</text>
<text class="tk" transform="translate(291.0 2010) scale(1 1.04)" text-anchor="middle">2000</text>
<text class="tk" transform="translate(465.5 2010) scale(1 1.04)" text-anchor="middle">4000</text>
<text class="tk" transform="translate(640.0 2010) scale(1 1.04)" text-anchor="middle">6000</text>
<text class="tk" transform="translate(814.5 2010) scale(1 1.04)" text-anchor="middle">8000</text>
<text class="tk" transform="translate(990.0 2010) scale(1 1.04)" text-anchor="middle">10000</text>
<text class="tk" transform="translate(1164.5 2010) scale(1 1.04)" text-anchor="middle">12000</text>
<text transform="translate(658.6 2088) scale(1 1.04)" text-anchor="middle" style="font-size:35.1px;font-weight:bold">Age (yrs B.P.)</text>
<text class="src" transform="translate(144.4 109.0) scale(1 1.04)">Gupta et al., 2003</text>
<text class="src" transform="translate(144.4 381.0) scale(1 1.04)">Fleitmann et al., 2003</text>
<text class="src" transform="translate(144.4 652.1) scale(1 1.04)">Prasad et al., 2014</text>
<text class="src" transform="translate(144.4 923.4) scale(1 1.04)">Berkelhammer et al., 2012</text>
<text class="src" transform="translate(144.4 949.3) scale(1 1.04)">Dutt et al., 2015</text>
<text class="src" transform="translate(144.4 1196.2) scale(1 1.04)">Dykoski et al., 2005</text>
<text class="src" transform="translate(144.4 1465.0) scale(1 1.04)">Leipe et al., 2014</text>
<text class="src" transform="translate(144.4 1736.7) scale(1 1.04)">Rawat et al., 2015</text>
<text class="pl" transform="translate(1119.0 98.0) scale(1 1.04)">a</text>
<text class="pl" transform="translate(1119.0 380.0) scale(1 1.04)">b</text>
<text class="pl" transform="translate(1119.0 645.5) scale(1 1.04)">c</text>
<text class="pl" transform="translate(1120.0 922.5) scale(1 1.04)">d</text>
<text class="pl" transform="translate(1119.0 1191.0) scale(1 1.04)">e</text>
<text class="pl" transform="translate(1119.0 1468.5) scale(1 1.04)">f</text>
<text class="pl" transform="translate(1120.0 1739.0) scale(1 1.04)">g</text>
<text class="ax" text-anchor="middle" transform="translate(35.5 194) rotate(-90) scale(1 1.04)"><tspan font-style="italic">G. bulloides</tspan> (%)</text>
<text class="ax" text-anchor="middle" transform="translate(34.8 742.0) rotate(-90) scale(1 1.04)" style="font-size:35px"><tspan style="font-family:'Liberation Serif',serif;font-size:39px">δ</tspan><tspan dy="-16.6" style="font-size:18px">13</tspan><tspan dy="16.6">C (‰, VPDB)</tspan></text>
<text class="ax" text-anchor="middle" transform="translate(34.9 1281.5) rotate(-90) scale(1 1.04)" style="font-size:35px"><tspan style="font-family:'Liberation Serif',serif;font-size:39px">δ</tspan><tspan dy="-16.6" style="font-size:18px">18</tspan><tspan dy="16.6">O (‰, VPDB)</tspan></text>
<text class="ax" text-anchor="middle" transform="translate(34.8 1839.3) rotate(-90) scale(1 1.04)" style="font-size:35px">Broad leaved (%)</text>
<text class="ax" text-anchor="middle" transform="translate(1285.3 454.4) rotate(-90) scale(1 1.04)" style="font-size:35px"><tspan style="font-family:'Liberation Serif',serif;font-size:39px">δ</tspan><tspan dy="-16.6" style="font-size:18px">18</tspan><tspan dy="16.6">O (‰, VPDB)</tspan></text>
<text class="ax" text-anchor="middle" transform="translate(1285.3 993.2) rotate(-90) scale(1 1.04)" style="font-size:35px"><tspan style="font-family:'Liberation Serif',serif;font-size:39px">δ</tspan><tspan dy="-16.6" style="font-size:18px">18</tspan><tspan dy="16.6">O (‰, VPDB)</tspan></text>
<text class="ax" text-anchor="middle" transform="translate(1280.8 1559) rotate(-90) scale(1 1.04)">MAP</text>
</svg></body></html>
